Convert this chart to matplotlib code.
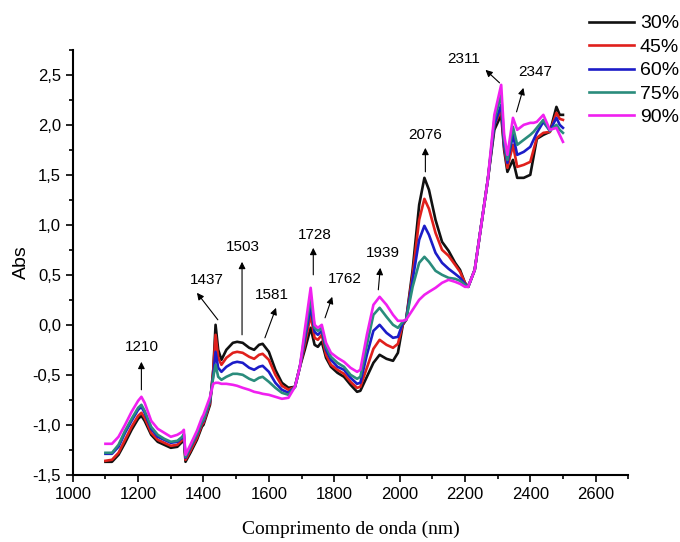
#!/usr/bin/env python3
"""NIR spectra (Abs vs wavelength) for five concentrations, with peak annotations."""
import matplotlib
matplotlib.use("Agg")
import matplotlib.pyplot as plt
from matplotlib.ticker import MultipleLocator, FuncFormatter

plt.rcParams["font.family"] = ["Liberation Sans", "DejaVu Sans"]

# wavelength grid (nm)
wavelength = [
    1100, 1120, 1140, 1160, 1180, 1200, 1210, 1220, 1240, 1260,
    1280, 1300, 1320, 1335, 1340, 1345, 1360, 1380, 1395, 1400,
    1420, 1430, 1437, 1445, 1455, 1470, 1490, 1503, 1520, 1540,
    1555, 1570, 1581, 1600, 1620, 1640, 1660, 1680, 1695, 1710,
    1728, 1740, 1750, 1762, 1775, 1790, 1810, 1830, 1850, 1870,
    1880, 1900, 1920, 1939, 1960, 1980, 1995, 2010, 2020, 2040,
    2060, 2076, 2090, 2110, 2130, 2150, 2170, 2185, 2200, 2210,
    2230, 2250, 2270, 2290, 2311, 2320, 2330, 2347, 2360, 2380,
    2400, 2410, 2420, 2440, 2460, 2480, 2490, 2500,
]

abs_30 = [
    -1.37, -1.37, -1.30, -1.18, -1.05, -0.94, -0.91, -0.96, -1.10, -1.17,
    -1.20, -1.23, -1.22, -1.17, -1.14, -1.37, -1.28, -1.15, -1.02, -1.00,
    -0.80, -0.45, 0.00, -0.25, -0.35, -0.25, -0.18, -0.17, -0.18, -0.23,
    -0.25, -0.20, -0.19, -0.27, -0.45, -0.58, -0.63, -0.62, -0.42, -0.25,
    -0.03, -0.20, -0.22, -0.17, -0.33, -0.42, -0.48, -0.52, -0.60, -0.67,
    -0.66, -0.52, -0.38, -0.30, -0.34, -0.36, -0.28, 0.00, 0.05, 0.55,
    1.20, 1.47, 1.35, 1.05, 0.83, 0.74, 0.62, 0.55, 0.42, 0.38,
    0.55, 1.00, 1.45, 1.95, 2.10, 1.75, 1.53, 1.65, 1.47, 1.47,
    1.50, 1.68, 1.86, 1.90, 1.93, 2.18, 2.10, 2.10,
]
abs_45 = [
    -1.36, -1.35, -1.28, -1.15, -1.02, -0.91, -0.88, -0.93, -1.08, -1.15,
    -1.18, -1.21, -1.20, -1.15, -1.12, -1.35, -1.26, -1.13, -1.00, -0.98,
    -0.78, -0.45, -0.10, -0.33, -0.40, -0.33, -0.28, -0.27, -0.28, -0.32,
    -0.34, -0.30, -0.29, -0.35, -0.50, -0.61, -0.65, -0.62, -0.42, -0.20,
    0.10, -0.13, -0.15, -0.10, -0.30, -0.40, -0.45, -0.49, -0.57, -0.63,
    -0.62, -0.43, -0.24, -0.15, -0.20, -0.23, -0.19, 0.01, 0.05, 0.50,
    1.05, 1.26, 1.16, 0.92, 0.75, 0.69, 0.60, 0.53, 0.42, 0.38,
    0.55, 1.00, 1.45, 2.00, 2.15, 1.78, 1.57, 1.80, 1.58, 1.60,
    1.63, 1.75, 1.87, 1.92, 1.93, 2.12, 2.06, 2.05,
]
abs_60 = [
    -1.29, -1.29, -1.22, -1.08, -0.96, -0.85, -0.82, -0.88, -1.04, -1.12,
    -1.15, -1.18, -1.17, -1.13, -1.10, -1.33, -1.23, -1.10, -0.98, -0.96,
    -0.76, -0.50, -0.27, -0.43, -0.47, -0.42, -0.38, -0.37, -0.38, -0.43,
    -0.45, -0.42, -0.41, -0.47, -0.58, -0.65, -0.68, -0.62, -0.42, -0.15,
    0.18, -0.07, -0.10, -0.06, -0.25, -0.35, -0.42, -0.45, -0.53, -0.59,
    -0.58, -0.30, -0.06, 0.00, -0.08, -0.13, -0.12, 0.02, 0.05, 0.45,
    0.85, 0.99, 0.90, 0.72, 0.62, 0.56, 0.51, 0.47, 0.41, 0.38,
    0.55, 1.00, 1.45, 2.00, 2.20, 1.80, 1.62, 1.90, 1.70, 1.73,
    1.78, 1.85, 1.92, 2.03, 1.94, 2.07, 2.00, 1.97,
]
abs_75 = [
    -1.28, -1.28, -1.20, -1.06, -0.94, -0.83, -0.80, -0.86, -1.02, -1.10,
    -1.14, -1.17, -1.16, -1.12, -1.09, -1.32, -1.22, -1.09, -0.97, -0.95,
    -0.75, -0.52, -0.40, -0.52, -0.55, -0.52, -0.49, -0.49, -0.50, -0.54,
    -0.56, -0.53, -0.52, -0.57, -0.63, -0.68, -0.70, -0.62, -0.42, -0.10,
    0.27, -0.03, -0.06, -0.03, -0.22, -0.32, -0.38, -0.42, -0.50, -0.54,
    -0.52, -0.20, 0.10, 0.17, 0.08, 0.00, -0.03, 0.03, 0.05, 0.38,
    0.62, 0.68, 0.63, 0.54, 0.50, 0.47, 0.46, 0.44, 0.40, 0.38,
    0.55, 1.00, 1.45, 2.05, 2.30, 1.85, 1.65, 1.98, 1.80, 1.85,
    1.90, 1.93, 1.97, 2.05, 1.94, 2.00, 1.95, 1.92,
]
abs_90 = [
    -1.19, -1.19, -1.12, -1.00, -0.87, -0.76, -0.72, -0.78, -0.96, -1.04,
    -1.08, -1.12, -1.10, -1.07, -1.05, -1.30, -1.20, -1.06, -0.93, -0.90,
    -0.72, -0.59, -0.58, -0.58, -0.59, -0.59, -0.60, -0.61, -0.63, -0.65,
    -0.67, -0.68, -0.69, -0.70, -0.72, -0.74, -0.73, -0.62, -0.42, -0.05,
    0.37, 0.00, -0.03, 0.00, -0.18, -0.28, -0.33, -0.37, -0.43, -0.47,
    -0.45, -0.10, 0.20, 0.28, 0.20, 0.10, 0.04, 0.04, 0.05, 0.15,
    0.25, 0.30, 0.33, 0.37, 0.42, 0.45, 0.43, 0.41, 0.38, 0.38,
    0.55, 1.00, 1.45, 2.10, 2.40, 1.90, 1.70, 2.07, 1.95, 2.00,
    2.02, 2.02, 2.03, 2.10, 1.95, 1.97, 1.90, 1.83,
]

series_labels = ["30%", "45%", "60%", "75%", "90%"]
series_colors = ["#111111", "#e0201c", "#1c1cc8", "#2a8c7c", "#f020f0"]

# peak labels, their text positions and the arrows (start -> tip)
peak_labels = ["1210", "1437", "1503", "1581", "1728", "1762", "1939", "2076", "2311", "2347"]
label_xy = [(1210, -0.22), (1411, 0.45), (1521, 0.78), (1610, 0.30), (1742, 0.90),
            (1834, 0.46), (1950, 0.72), (2079, 1.90), (2195, 2.66), (2416, 2.53)]
arrow_from = [(1210, -0.65), (1444, 0.05), (1518, -0.10), (1588, -0.13), (1736, 0.50),
              (1772, 0.07), (1935, 0.35), (2079, 1.53), (2306, 2.42), (2358, 2.13)]
arrow_to = [(1210, -0.37), (1380, 0.32), (1518, 0.63), (1622, 0.17), (1736, 0.77),
            (1794, 0.28), (1941, 0.57), (2079, 1.77), (2263, 2.55), (2379, 2.37)]


def main():
    fig = plt.figure(figsize=(6.8, 5.42), dpi=100)
    ax = fig.add_axes([0.107, 0.124, 0.817, 0.784])

    all_series = [abs_30, abs_45, abs_60, abs_75, abs_90]
    for ys, lab, col in zip(all_series, series_labels, series_colors):
        ax.plot(wavelength, ys, color=col, lw=1.9, label=lab)

    for lab, txy, a0, a1 in zip(peak_labels, label_xy, arrow_from, arrow_to):
        ax.text(txy[0], txy[1], lab, ha="center", va="center", fontsize=11)
        ax.annotate("", xy=a1, xytext=a0,
                    arrowprops=dict(arrowstyle="-|>", color="black", lw=0.8,
                                    mutation_scale=10, shrinkA=0, shrinkB=0))

    ax.set_xlim(1000, 2700)
    ax.set_ylim(-1.5, 2.75)
    ax.xaxis.set_minor_locator(MultipleLocator(100))
    ax.yaxis.set_major_locator(MultipleLocator(0.5))
    ax.yaxis.set_minor_locator(MultipleLocator(0.25))
    ax.set_xticks(range(1000, 2601, 200))
    ax.yaxis.set_major_formatter(FuncFormatter(lambda v, p: ("%.1f" % v).replace(".", ",")))
    ax.tick_params(which="major", direction="out", length=5, width=1.2, labelsize=12)
    ax.tick_params(which="minor", direction="out", length=3, width=1.2)
    for s in ["top", "right"]:
        ax.spines[s].set_visible(False)
    for s in ["left", "bottom"]:
        ax.spines[s].set_linewidth(1.5)

    ax.set_ylabel("Abs", fontsize=14, labelpad=2)
    ax.set_xlabel("Comprimento de onda (nm)", fontsize=14, family="Liberation Serif", labelpad=14)

    fig.legend(loc="upper left", bbox_to_anchor=(0.855, 0.987), frameon=False,
               fontsize=14, handlelength=2.3, handletextpad=0.3, labelspacing=0.3,
               borderaxespad=0)

    plt.savefig("out.png", dpi=100)
    plt.close()


if __name__ == "__main__":
    main()
